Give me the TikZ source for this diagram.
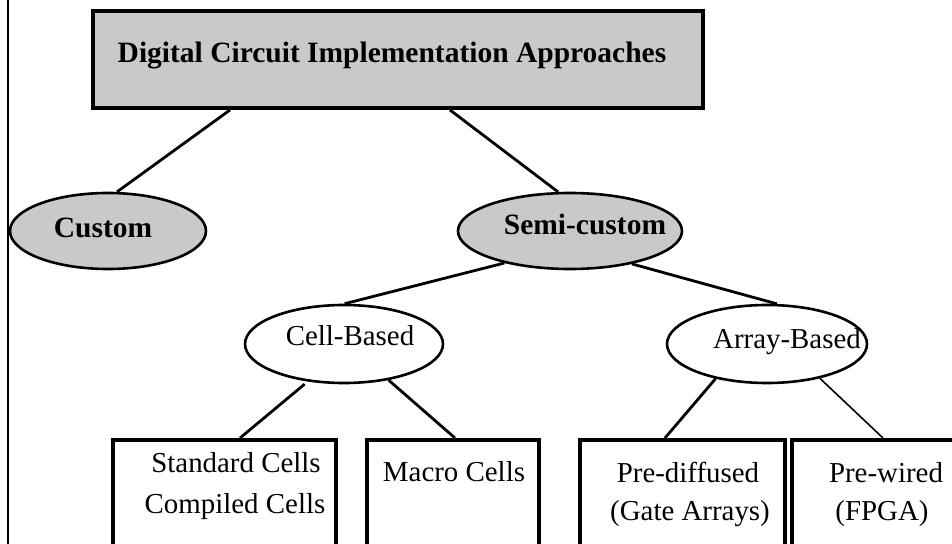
\documentclass[tikz,border=0pt]{standalone}
\usepackage{fontspec}
\setmainfont{Liberation Serif}
\usetikzlibrary{shapes.geometric,calc}
\tikzset{
  shade/.style={fill=gray!42},
  ell/.style={ellipse, draw, line width=2.6bp, inner sep=0pt},
  leafbox/.style={rectangle, draw, line width=4bp, inner sep=0pt},
  lbl/.style={anchor=base, inner sep=0pt, font=\fontsize{29}{34}\selectfont},
  blbl/.style={lbl, font=\fontsize{29.6}{34}\selectfont\bfseries},
  conn/.style={line width=2.8bp},
  thinconn/.style={line width=1.6bp},
}
\begin{document}
\begin{tikzpicture}[x=1bp,y=-1bp]
\clip (0,0) rectangle (952,544);
\fill[white] (0,0) rectangle (952,544);
% left border line
\coordinate (lt) at (8,0);
\coordinate (lb) at (8,544);
\draw[line width=2bp] (lt) -- (lb);
% title
\node[leafbox, shade, minimum width=610bp, minimum height=97bp] (title) at (398,59.5) {};
\node[blbl] (titletxt) at (392,63) {Digital Circuit Implementation Approaches};
% second level
\node[ell, shade, minimum width=196bp, minimum height=76bp] (custom) at (108,231) {};
\node[blbl] (customtxt) at (103,238) {Custom};
\node[ell, shade, minimum width=224bp, minimum height=76bp] (semi) at (570,231) {};
\node[blbl] (semitxt) at (585,235) {Semi-custom};
% third level
\node[ell, minimum width=198bp, minimum height=78bp] (cell) at (344,344) {};
\node[lbl] (celltxt) at (350,346) {Cell-Based};
\node[ell, minimum width=200bp, minimum height=78bp] (array) at (767,344) {};
\node[lbl] (arraytxt) at (787,349) {Array-Based};
% leaves
\node[leafbox, minimum width=223bp, minimum height=120bp] (box1) at (224.5,500) {};
\node[leafbox, minimum width=172bp, minimum height=120bp] (box2) at (453,500) {};
\node[leafbox, minimum width=205bp, minimum height=120bp] (box3) at (682.5,500) {};
\node[leafbox, minimum width=180bp, minimum height=120bp] (box4) at (882,500) {};
\node[lbl] (t1a) at (236,472) {Standard Cells};
\node[lbl] (t1b) at (235,513) {Compiled Cells};
\node[lbl] (t2) at (454,481) {Macro Cells};
\node[lbl] (t3a) at (688,482) {Pre-diffused};
\node[lbl] (t3b) at (690,520) {(Gate Arrays)};
\node[lbl] (t4a) at (886,482) {Pre-wired};
\node[lbl] (t4b) at (882,520) {(FPGA)};
% connectors
\draw[conn] ($(title.south)+(-168,0)$) -- (custom.77);
\draw[conn] ($(title.south)+(52,0)$) -- (semi.107);
\draw[conn] (semi.206) -- (cell.89);
\draw[conn] (semi.332) -- (array.76);
\draw[conn, shorten <=4bp] (cell.226) -- ($(box1.north west)+(129,0)$);
\draw[conn] (cell.321) -- ($(box2.north west)+(90,0)$);
\draw[conn] (array.214) -- ($(box3.north west)+(87,0)$);
\draw[thinconn] (array.327) -- ($(box4.north west)+(93,0)$);
\end{tikzpicture}
\end{document}
